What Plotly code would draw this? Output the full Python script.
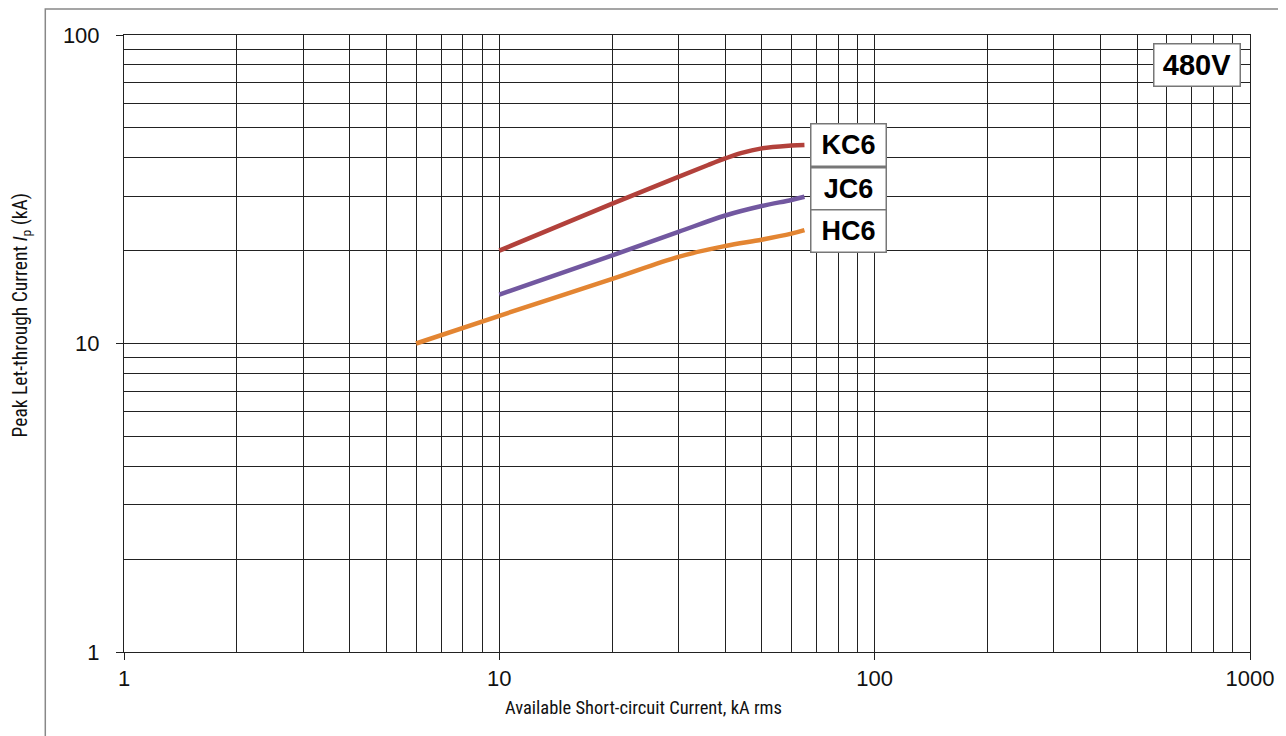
import plotly.graph_objects as go

# Data
kc6_x = [10, 20, 30, 36, 40, 44, 50, 60, 65]
kc6_y = [20.0, 28.4, 34.7, 37.9, 39.8, 41.4, 42.9, 43.8, 44.0]
jc6_x = [10, 20, 30, 40, 50, 60, 65]
jc6_y = [14.4, 19.3, 23.0, 26.0, 27.9, 29.2, 29.9]
hc6_x = [6, 10, 20, 30, 40, 50, 60, 65]
hc6_y = [10.0, 12.3, 16.2, 19.1, 20.7, 21.7, 22.7, 23.3]

series_names = ["KC6", "JC6", "HC6"]
series_colors = ["#B2413B", "#7258A0", "#E38532"]

x_ticks = [1, 10, 100, 1000]
y_ticks = [1, 10, 100]

fig = go.Figure()
for xs, ys, name, col in zip([kc6_x, jc6_x, hc6_x], [kc6_y, jc6_y, hc6_y],
                             series_names, series_colors):
    fig.add_trace(go.Scatter(x=xs, y=ys, mode="lines", name=name,
                             line=dict(color=col, width=4.5, shape="spline", smoothing=1.0),
                             showlegend=False))

grid_col = "#222222"
minor = dict(ticks="", showgrid=True, gridcolor=grid_col, gridwidth=1, dtick="D1")

fig.update_xaxes(type="log", range=[0, 3], tickvals=x_ticks, ticktext=[str(v) for v in x_ticks],
                 showgrid=True, gridcolor=grid_col, gridwidth=1,
                 ticks="outside", ticklen=7, tickcolor=grid_col,
                 showline=True, linecolor=grid_col, linewidth=1, mirror=True,
                 minor=minor,
                 tickfont=dict(family="Liberation Sans, Arial", size=22, color="#111"),
                 zeroline=False)
fig.update_yaxes(type="log", range=[0, 2], tickvals=y_ticks, ticktext=[str(v) for v in y_ticks],
                 showgrid=True, gridcolor=grid_col, gridwidth=1,
                 ticks="outside", ticklen=7, tickcolor=grid_col,
                 showline=True, linecolor=grid_col, linewidth=1, mirror=True,
                 minor=minor,
                 tickfont=dict(family="Liberation Sans, Arial", size=22, color="#111"),
                 ticklabelstandoff=12,
                 zeroline=False)

title_font = dict(family="Roboto Condensed, Roboto", size=18.5, color="#111")
fig.add_annotation(xref="paper", yref="paper", x=0.4615, y=-0.0908,
                   text="Available Short-circuit Current, kA rms", showarrow=False,
                   font=title_font, xanchor="center", yanchor="middle")
fig.add_annotation(xref="paper", yref="paper", x=-0.0912, y=0.546, textangle=-90,
                   text="Peak Let-through Current <i>I</i><sub>p</sub> (kA)", showarrow=False,
                   font=dict(family="Roboto Condensed, Roboto", size=19.5, color="#111"),
                   xanchor="center", yanchor="middle")

# Labels for curves
box_font = dict(family="Liberation Sans, Arial", size=27, color="#000")
label_pos = [(0.6436, 0.8221), (0.6436, 0.7504), (0.6436, 0.6825)]
for name, (px, py) in zip(series_names, label_pos):
    fig.add_annotation(xref="paper", yref="paper", x=px, y=py, text="<b>" + name + "</b>",
                       showarrow=False, font=box_font, bgcolor="white",
                       bordercolor="#777", borderwidth=1.5, borderpad=0,
                       width=74, height=41, xanchor="center", yanchor="middle")

fig.add_annotation(xref="paper", yref="paper", x=0.9525, y=0.9519, text="<b>480V</b>",
                   showarrow=False, font=dict(family="Liberation Sans, Arial", size=29, color="#000"),
                   bgcolor="white",
                   bordercolor="#777", borderwidth=1.5, borderpad=0,
                   width=85, height=41, xanchor="center", yanchor="middle")

# outer frame
fig.add_shape(type="rect", xref="paper", yref="paper",
              x0=-0.0699, x1=1.04, y0=-0.16, y1=1.0421,
              line=dict(color="#888", width=1.5), fillcolor="rgba(0,0,0,0)", layer="below")

# page body has an 8px margin; size the figure to fill the remaining window
fig.update_layout(width=1278, height=728, paper_bgcolor="white", plot_bgcolor="white",
                  margin=dict(l=116, r=28, t=27, b=84), autosize=False)

fig.write_html("out.html")
